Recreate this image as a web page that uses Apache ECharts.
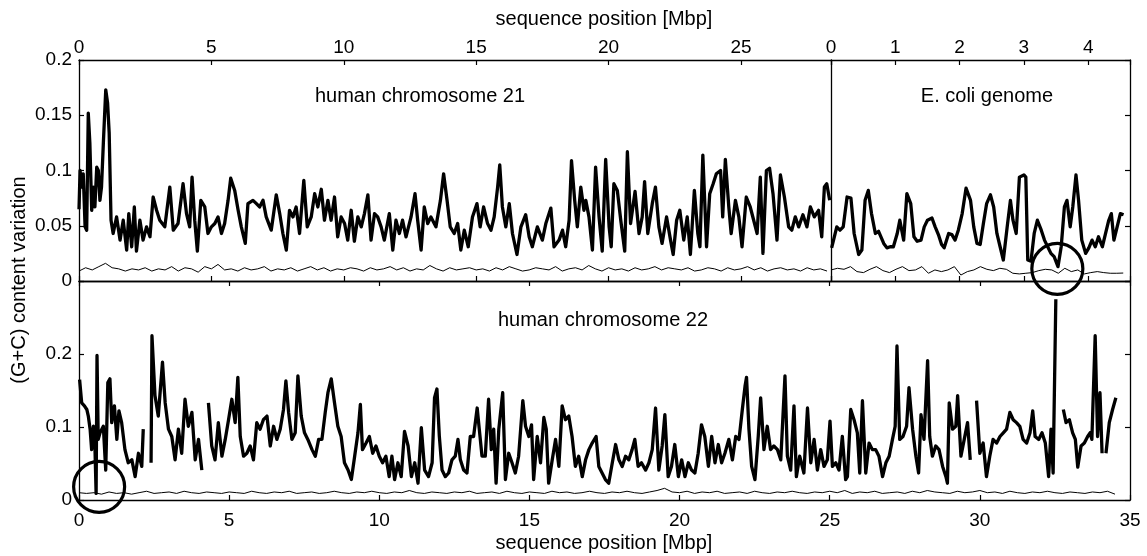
<!DOCTYPE html>
<html><head><meta charset="utf-8">
<script src="https://cdn.jsdelivr.net/npm/echarts@6/dist/echarts.min.js"></script>
<style>html,body{margin:0;padding:0;background:#fff}#c{width:1147px;height:556px}</style>
</head><body><div id="c"></div>
<script>
// ---- data (Mbp, (G+C) content variation) ----
const chr21Ticks = [0, 5, 10, 15, 20, 25];
const ecoliTicks = [0, 1, 2, 3, 4];
const chr22Ticks = [0, 5, 10, 15, 20, 25, 30, 35];

const chr21Thick = [[0,0.065],[0.04,0.100],[0.10,0.085],[0.16,0.097],[0.23,0.049],[0.29,0.046],[0.35,0.152],[0.41,0.125],[0.48,0.064],[0.54,0.085],[0.60,0.067],[0.67,0.103],[0.73,0.100],[0.79,0.073],[0.85,0.085],[0.92,0.125],[1.01,0.173],[1.08,0.161],[1.14,0.134],[1.21,0.055],[1.29,0.043],[1.42,0.058],[1.55,0.037],[1.67,0.055],[1.80,0.028],[1.88,0.061],[1.99,0.031],[2.09,0.067],[2.17,0.027],[2.30,0.055],[2.42,0.037],[2.55,0.049],[2.68,0.040],[2.80,0.076],[2.93,0.064],[3.05,0.055],[3.24,0.049],[3.43,0.085],[3.56,0.046],[3.74,0.052],[3.93,0.088],[4.06,0.061],[4.18,0.049],[4.27,0.094],[4.37,0.055],[4.47,0.027],[4.60,0.073],[4.75,0.067],[4.87,0.043],[5.00,0.049],[5.13,0.052],[5.25,0.058],[5.38,0.043],[5.50,0.052],[5.63,0.073],[5.73,0.093],[5.88,0.082],[6.01,0.064],[6.13,0.049],[6.28,0.034],[6.38,0.070],[6.57,0.073],[6.70,0.070],[6.82,0.067],[6.95,0.073],[7.07,0.058],[7.26,0.046],[7.45,0.078],[7.58,0.061],[7.70,0.043],[7.83,0.028],[7.95,0.064],[8.08,0.058],[8.20,0.067],[8.33,0.043],[8.49,0.091],[8.62,0.049],[8.77,0.058],[8.90,0.079],[9.02,0.067],[9.15,0.083],[9.27,0.055],[9.40,0.073],[9.52,0.055],[9.65,0.076],
[9.77,0.040],[9.90,0.058],[10.03,0.052],[10.15,0.037],[10.28,0.064],[10.40,0.036],[10.53,0.058],[10.66,0.049],[10.78,0.061],[10.91,0.078],[11.03,0.037],[11.16,0.061],[11.28,0.058],[11.41,0.049],[11.53,0.037],[11.72,0.061],[11.85,0.028],[11.97,0.055],[12.10,0.043],[12.22,0.055],[12.35,0.040],[12.54,0.058],[12.69,0.079],[12.79,0.055],[12.92,0.028],[13.04,0.067],[13.17,0.052],[13.29,0.058],[13.48,0.049],[13.65,0.073],[13.77,0.097],[13.90,0.073],[14.02,0.049],[14.17,0.043],[14.30,0.052],[14.42,0.028],[14.55,0.046],[14.70,0.031],[14.86,0.058],[15.03,0.070],[15.15,0.049],[15.28,0.067],[15.43,0.052],[15.56,0.046],[15.68,0.058],[15.81,0.085],[15.89,0.105],[15.99,0.067],[16.12,0.049],[16.25,0.070],[16.37,0.043],[16.54,0.024],[16.69,0.049],[16.87,0.060],[17.00,0.040],[17.12,0.031],[17.31,0.049],[17.50,0.037],[17.63,0.052],[17.82,0.066],[17.94,0.031],[18.13,0.037],[18.26,0.046],[18.38,0.031],[18.51,0.055],[18.60,0.109],[18.72,0.073],[18.82,0.049],[18.95,0.085],[19.07,0.064],
[19.14,0.073],[19.26,0.058],[19.39,0.028],[19.51,0.103],[19.64,0.058],[19.76,0.027],[19.89,0.110],[20.02,0.049],[20.10,0.031],[20.20,0.088],[20.33,0.082],[20.46,0.055],[20.61,0.027],[20.71,0.117],[20.83,0.052],[21.00,0.081],[21.15,0.043],[21.27,0.058],[21.36,0.090],[21.48,0.043],[21.65,0.070],[21.77,0.085],[21.90,0.049],[22.02,0.034],[22.19,0.058],[22.34,0.037],[22.44,0.024],[22.57,0.055],[22.69,0.064],[22.84,0.037],[22.97,0.058],[23.09,0.024],[23.24,0.082],[23.37,0.043],[23.45,0.031],[23.56,0.114],[23.70,0.031],[23.82,0.079],[23.95,0.088],[24.07,0.097],[24.23,0.100],[24.31,0.058],[24.41,0.110],[24.54,0.067],[24.63,0.043],[24.79,0.073],[24.92,0.058],[25.04,0.031],[25.20,0.076],[25.35,0.067],[25.48,0.055],[25.61,0.043],[25.73,0.094],[25.83,0.025],[25.96,0.100],[26.08,0.102],[26.21,0.079],[26.36,0.037],[26.49,0.096],[26.64,0.076],[26.80,0.049],[26.92,0.046],[27.05,0.058],[27.18,0.049],[27.34,0.060],[27.49,0.049],[27.62,0.067],[27.77,0.058],[27.93,0.064],[28.05,0.040],[28.15,0.085],[28.24,0.088],[28.35,0.073]];

const chr21ThinStep = 0.25;
const chr21Thin = [0.009,0.012,0.010,0.013,0.016,0.012,0.011,0.009,0.011,0.010,
0.012,0.009,0.011,0.010,0.013,0.009,0.012,0.011,0.008,0.013,
0.011,0.015,0.010,0.011,0.009,0.012,0.010,0.011,0.013,0.009,
0.011,0.010,0.012,0.009,0.011,0.013,0.010,0.012,0.009,0.011,
0.010,0.012,0.011,0.009,0.012,0.010,0.011,0.013,0.010,0.012,
0.009,0.011,0.010,0.014,0.011,0.009,0.012,0.010,0.011,0.012,
0.010,0.011,0.009,0.012,0.010,0.013,0.011,0.009,0.010,0.012,
0.011,0.010,0.013,0.009,0.011,0.012,0.010,0.014,0.011,0.009,
0.012,0.010,0.011,0.009,0.012,0.010,0.011,0.013,0.010,0.012,
0.011,0.010,0.012,0.009,0.010,0.012,0.011,0.009,0.012,0.010,
0.011,0.013,0.010,0.012,0.009,0.011,0.012,0.010,0.011,0.009,
0.012,0.010,0.011,0.009];

const ecoliThick = [[0.01,0.030],[0.09,0.049],[0.14,0.046],[0.19,0.049],[0.25,0.076],[0.31,0.075],[0.36,0.043],[0.43,0.024],[0.48,0.028],[0.53,0.073],[0.58,0.082],[0.63,0.061],[0.69,0.043],[0.74,0.045],[0.82,0.034],[0.87,0.030],[0.92,0.031],[0.97,0.031],[1.03,0.043],[1.07,0.055],[1.13,0.037],[1.18,0.079],[1.24,0.070],[1.29,0.040],[1.34,0.036],[1.40,0.037],[1.45,0.049],[1.50,0.055],[1.57,0.057],[1.62,0.049],[1.67,0.042],[1.72,0.033],[1.76,0.030],[1.83,0.043],[1.88,0.042],[1.93,0.037],[1.98,0.046],[2.04,0.061],[2.10,0.084],[2.17,0.073],[2.22,0.049],[2.27,0.034],[2.32,0.033],[2.37,0.052],[2.42,0.070],[2.48,0.078],[2.53,0.067],[2.58,0.043],[2.63,0.031],[2.68,0.019],[2.74,0.049],[2.79,0.073],[2.83,0.055],[2.88,0.043],[2.93,0.094],[3.00,0.096],[3.03,0.094],[3.06,0.019],[3.11,0.018],[3.16,0.043],[3.21,0.055],[3.27,0.046],[3.32,0.037],[3.37,0.031],[3.42,0.025],[3.47,0.022],[3.53,0.013],[3.58,0.031],[3.63,0.067],[3.67,0.073],[3.72,0.049],[3.76,0.067],[3.81,0.096],[3.85,0.073],[3.90,0.037],[3.96,0.025],[4.01,0.030],[4.06,0.037],[4.11,0.031],[4.16,0.040],[4.22,0.031],[4.27,0.043],[4.32,0.055],[4.36,0.061],[4.40,0.037],[4.45,0.049],[4.50,0.061],[4.55,0.060]];

const ecoliThinStep = 0.101;
const ecoliThin = [0.0100,0.0115,0.0106,0.0130,0.0085,0.0076,0.0106,0.0130,0.0094,0.0076,
0.0106,0.0130,0.0094,0.0100,0.0130,0.0070,0.0100,0.0085,0.0100,0.0130,
0.0054,0.0085,0.0100,0.0130,0.0106,0.0094,0.0115,0.0106,0.0070,0.0064,
0.0070,0.0076,0.0094,0.0106,0.0100,0.0070,0.0115,0.0085,0.0100,0.0064,
0.0076,0.0085,0.0076,0.0070,0.0070,0.0072];

const chr22Thick = [[0.02,0.165],[0.09,0.133],[0.18,0.129],[0.26,0.124],[0.31,0.115],[0.37,0.097],[0.42,0.069],[0.48,0.101],[0.53,0.074],[0.57,0.009],[0.60,0.198],[0.64,0.083],[0.70,0.092],[0.81,0.101],[0.89,0.041],[0.96,0.161],[1.03,0.166],[1.09,0.106],[1.18,0.129],[1.26,0.083],[1.33,0.122],[1.42,0.106],[1.53,0.069],[1.64,0.051],[1.76,0.055],[1.87,0.032],[1.98,0.064],[2.09,0.046],[2.14,0.097],[2.25,null],
[2.40,0.051],[2.43,0.225],[2.53,0.143],[2.64,0.115],[2.78,0.189],[2.87,0.133],[2.98,0.097],[3.09,0.087],[3.20,0.055],[3.31,0.097],[3.42,0.064],[3.53,0.138],[3.64,0.101],[3.76,0.120],[3.87,0.055],[3.98,0.083],[4.09,0.041],[4.20,null],
[4.31,0.133],[4.42,0.074],[4.53,0.055],[4.64,0.106],[4.76,0.060],[4.87,0.083],[4.98,0.110],[5.09,0.138],[5.20,0.106],[5.29,0.168],[5.37,0.087],[5.48,0.060],[5.59,0.064],[5.70,0.074],[5.81,0.055],[5.92,0.106],[6.03,0.097],[6.14,0.110],[6.26,0.115],[6.37,0.074],[6.48,0.101],[6.59,0.083],[6.70,0.097],[6.81,0.124],[6.89,0.163],[6.98,0.120],[7.09,0.083],[7.20,0.092],[7.29,0.170],[7.40,0.115],[7.51,0.092],[7.62,0.083],[7.76,0.069],[7.87,0.060],[7.98,0.083],[8.09,0.083],[8.20,0.120],[8.29,0.147],[8.40,0.166],[8.51,0.133],[8.62,0.101],[8.73,0.087],[8.84,0.051],[8.96,0.041],[9.07,0.028],[9.18,0.060],[9.29,0.092],[9.37,0.131],[9.44,0.069],[9.56,0.078],[9.67,0.087],[9.78,0.064],[9.89,0.074],[10.00,0.060],[10.11,0.051],[10.22,0.060],[10.33,0.032],[10.42,0.060],[10.51,0.028],[10.62,0.051],[10.73,0.032],[10.84,0.094],[10.96,0.074],[11.07,0.032],[11.18,0.051],[11.29,0.023],[11.40,0.099],[11.51,0.041],[11.64,0.032],[11.76,0.051],[11.84,0.140],
[11.92,0.152],[12.00,0.087],[12.09,0.041],[12.20,0.032],[12.31,0.037],[12.42,0.055],[12.53,0.060],[12.62,0.083],[12.70,0.055],[12.81,0.041],[12.92,0.037],[13.03,0.087],[13.14,0.087],[13.26,0.126],[13.33,0.097],[13.42,0.060],[13.53,0.060],[13.64,0.138],[13.73,0.069],[13.81,0.097],[13.89,0.023],[13.98,0.097],[14.11,0.147],[14.20,0.028],[14.31,0.064],[14.42,0.051],[14.53,0.037],[14.64,0.060],[14.78,0.136],[14.87,0.101],[14.98,0.087],[15.07,0.103],[15.14,0.028],[15.26,0.087],[15.37,0.051],[15.48,0.113],[15.56,0.097],[15.64,0.023],[15.76,0.055],[15.87,0.083],[15.98,0.046],[16.09,0.129],[16.20,0.110],[16.31,0.115],[16.42,0.087],[16.53,0.046],[16.64,0.060],[16.76,0.032],[16.87,0.055],[16.98,0.069],[17.09,0.078],[17.22,0.087],[17.31,0.046],[17.42,0.037],[17.53,0.028],[17.64,0.023],[17.76,0.051],[17.87,0.076],[17.98,0.055],[18.09,0.046],[18.20,0.060],[18.31,0.055],[18.42,0.069],[18.51,0.083],[18.62,0.046],[18.73,0.051],[18.87,0.041],[18.98,0.051],[19.09,0.069],[19.20,0.126],[19.31,0.041],[19.42,0.074],[19.51,0.117],[19.62,0.032],[19.73,0.046],[19.84,0.076],[19.96,0.032],[20.07,0.055],[20.18,0.032],[20.29,0.051],[20.40,0.041],[20.51,0.037],[20.62,0.064],[20.73,0.103],[20.84,0.087],[20.96,0.046],[21.07,0.087],[21.18,0.051],[21.29,0.076],[21.40,0.051],[21.51,0.064],[21.64,0.083],[21.76,0.055],[21.87,0.087],[21.98,0.083],[22.09,0.124],[22.18,0.156],[22.23,0.168],[22.31,0.097],[22.40,0.046],[22.51,0.028],[22.62,0.087],[22.70,0.140],[22.81,0.069],[22.92,0.101],[23.03,0.069],[23.14,0.074],[23.26,0.069],[23.37,0.055],[23.51,0.170],
[23.59,0.060],[23.70,0.041],[23.81,0.129],[23.89,0.032],[24.00,0.060],[24.14,0.037],[24.26,0.126],[24.37,0.051],[24.48,0.083],[24.59,0.041],[24.70,0.069],[24.81,0.046],[24.92,0.055],[25.01,0.108],[25.09,0.046],[25.20,0.051],[25.31,0.041],[25.42,0.087],[25.53,0.028],[25.59,0.032],[25.70,0.124],[25.81,0.110],[25.92,0.092],[26.00,0.037],[26.09,0.136],[26.20,0.037],[26.31,0.078],[26.42,0.069],[26.53,0.069],[26.64,0.060],[26.76,0.032],[26.87,0.051],[26.98,0.060],[27.09,0.083],[27.18,0.101],[27.24,0.211],[27.33,0.083],[27.44,0.087],[27.56,0.101],[27.64,0.154],[27.76,0.097],[27.87,0.060],[27.96,0.037],[28.04,0.117],[28.14,0.083],[28.26,0.191],[28.33,0.087],[28.42,0.060],[28.53,0.074],[28.64,0.069],[28.76,0.046],[28.87,0.032],[28.92,0.023],[28.98,0.133],[29.09,0.097],[29.20,0.101],[29.26,0.143],[29.37,0.060],[29.48,0.083],[29.59,0.106],[29.68,0.055],[29.78,null],
[29.89,0.136],[30.00,0.064],[30.11,0.078],[30.22,0.032],[30.33,0.060],[30.44,0.083],[30.56,0.078],[30.67,0.087],[30.78,0.092],[30.89,0.097],[31.00,0.120],[31.11,0.110],[31.22,0.106],[31.33,0.101],[31.44,0.083],[31.56,0.078],[31.67,0.092],[31.76,0.122],[31.84,0.087],[31.96,0.083],[32.07,0.092],[32.18,0.078],[32.29,0.032],[32.37,0.097],[32.44,0.037],[32.53,0.275],[32.65,null],
[32.78,0.124],[32.87,0.106],[32.98,0.110],[33.09,0.092],[33.18,0.083],[33.26,0.045],[33.37,0.074],[33.48,0.078],[33.59,0.087],[33.67,0.092],[33.73,0.083],[33.84,0.225],[33.92,0.087],[34.00,0.147],[34.07,0.064],[34.13,null],
[34.20,0.064],[34.31,0.106],[34.42,0.124],[34.53,0.140]];

const chr22ThinStep = 0.25;
const chr22Thin = [0.010,0.009,0.010,0.008,0.011,0.009,0.010,0.008,0.010,0.012,
0.009,0.010,0.011,0.009,0.012,0.010,0.009,0.011,0.010,0.009,
0.011,0.010,0.009,0.012,0.010,0.009,0.011,0.010,0.012,0.009,
0.010,0.011,0.009,0.010,0.012,0.010,0.009,0.011,0.010,0.012,
0.010,0.009,0.011,0.010,0.013,0.010,0.009,0.011,0.010,0.009,
0.011,0.010,0.012,0.009,0.010,0.011,0.009,0.012,0.010,0.009,
0.011,0.010,0.009,0.012,0.010,0.011,0.009,0.010,0.012,0.010,
0.009,0.011,0.010,0.012,0.010,0.009,0.011,0.013,0.016,0.011,
0.010,0.012,0.009,0.011,0.010,0.012,0.009,0.010,0.011,0.009,
0.012,0.010,0.009,0.011,0.010,0.012,0.010,0.009,0.011,0.010,
0.012,0.010,0.013,0.009,0.011,0.010,0.012,0.009,0.010,0.011,
0.009,0.012,0.010,0.013,0.011,0.010,0.009,0.012,0.010,0.011,
0.013,0.010,0.011,0.009,0.012,0.010,0.009,0.011,0.010,0.012,
0.010,0.009,0.011,0.010,0.009,0.011,0.010,0.012,0.008];

// annotation circles (data coordinates)
const ecoliCircle = [3.52, 0.011];
const chr22Circle = [0.67, 0.018];

// ---- helpers ----
const FONT = 'Liberation Sans';
const BLACK = '#000';
const withGaps = arr => arr.map(p => [p[0], p[1] === null ? '-' : p[1]]);
const stepped = (vals, step) => vals.map((v, i) => [+(i * step).toFixed(3), v]);
const lineCol = { color: BLACK, width: 1.3 };
const tickOn = { show: true, inside: true, length: 5, lineStyle: { color: BLACK, width: 1.2 } };
const lbl = (extra) => Object.assign({ color: BLACK, fontSize: 19, fontFamily: FONT }, extra);
const onTicks = ticks => v => (ticks.some(t => Math.abs(t - v) < 1e-6) ? String(v) : '');

function xAx(grid, pos, min, max, interval, showLabel, ticks, margin) {
  return {
    type: 'value', gridIndex: grid, position: pos, min, max, interval,
    axisLine: { show: true, onZero: false, lineStyle: lineCol },
    axisTick: tickOn,
    axisLabel: showLabel ? lbl({ margin, formatter: onTicks(ticks) }) : { show: false },
    splitLine: { show: false }
  };
}
function yAx(grid, pos, min, max, interval, showLabel, showTicks, fmt) {
  return {
    type: 'value', gridIndex: grid, position: pos, min, max, interval,
    axisLine: { show: true, onZero: false, lineStyle: lineCol },
    axisTick: showTicks ? tickOn : { show: false },
    axisLabel: showLabel ? lbl({ margin: 7, formatter: fmt }) : { show: false },
    splitLine: { show: false }
  };
}
const circleMark = (c) => ({
  symbol: 'circle', symbolSize: 51, silent: true, animation: false,
  itemStyle: { color: 'rgba(0,0,0,0)', borderColor: BLACK, borderWidth: 3.2 },
  label: { show: false },
  data: [{ coord: c }]
});
const thick = { color: BLACK, width: 3.3, join: 'round' };
const thin = { color: BLACK, width: 1 };

const chart = echarts.init(document.getElementById('c'), null, { renderer: 'canvas' });
chart.setOption({
  animation: false,
  backgroundColor: '#fff',
  grid: [
    { left: 79, top: 60, width: 752, height: 221 },
    { left: 831, top: 60, width: 299, height: 221 },
    { left: 79, top: 281, width: 1051, height: 219 }
  ],
  xAxis: [
    xAx(0, 'top', 0, 28.4, 5, true, chr21Ticks, 3),
    xAx(0, 'bottom', 0, 28.4, 5, false),
    xAx(1, 'top', 0, 4.65, 1, true, ecoliTicks, 3),
    xAx(1, 'bottom', 0, 4.65, 1, false),
    xAx(2, 'bottom', 0, 35, 5, true, chr22Ticks, 11),
    xAx(2, 'top', 0, 35, 5, false)
  ],
  yAxis: [
    yAx(0, 'left', 0, 0.2, 0.05, true, true, v => String(+v.toFixed(2))),
    yAx(1, 'left', 0, 0.2, 0.05, false, false),
    yAx(1, 'right', 0, 0.2, 0.05, false, true),
    yAx(2, 'left', 0, 0.3, 0.1, true, true, v => (v > 0.25 ? '' : String(+v.toFixed(1)))),
    yAx(2, 'right', 0, 0.3, 0.1, false, true)
  ],
  series: [
    { type: 'line', xAxisIndex: 0, yAxisIndex: 0, data: withGaps(chr21Thick), showSymbol: false, symbol: 'none', lineStyle: thick, connectNulls: false, z: 3 },
    { type: 'line', xAxisIndex: 0, yAxisIndex: 0, data: stepped(chr21Thin, chr21ThinStep), showSymbol: false, symbol: 'none', lineStyle: thin, z: 2 },
    { type: 'line', xAxisIndex: 2, yAxisIndex: 1, data: withGaps(ecoliThick), showSymbol: false, symbol: 'none', lineStyle: thick, z: 3, markPoint: circleMark(ecoliCircle) },
    { type: 'line', xAxisIndex: 2, yAxisIndex: 1, data: stepped(ecoliThin, ecoliThinStep), showSymbol: false, symbol: 'none', lineStyle: thin, z: 2 },
    { type: 'line', xAxisIndex: 4, yAxisIndex: 3, data: withGaps(chr22Thick), showSymbol: false, symbol: 'none', lineStyle: thick, connectNulls: false, z: 3, markPoint: circleMark(chr22Circle) },
    { type: 'line', xAxisIndex: 4, yAxisIndex: 3, data: stepped(chr22Thin, chr22ThinStep), showSymbol: false, symbol: 'none', lineStyle: thin, z: 2 }
  ],
  graphic: [
    { type: 'text', x: 604, y: 19, style: { text: 'sequence position [Mbp]', fill: BLACK, fontSize: 20, fontFamily: FONT, align: 'center', verticalAlign: 'middle' } },
    { type: 'text', x: 604, y: 543, style: { text: 'sequence position [Mbp]', fill: BLACK, fontSize: 20, fontFamily: FONT, align: 'center', verticalAlign: 'middle' } },
    { type: 'text', x: 19, y: 280, rotation: Math.PI / 2, style: { text: '(G+C) content variation', fill: BLACK, fontSize: 20, fontFamily: FONT, align: 'center', verticalAlign: 'middle' } },
    { type: 'text', x: 420, y: 96, style: { text: 'human chromosome 21', fill: BLACK, fontSize: 20, fontFamily: FONT, align: 'center', verticalAlign: 'middle' } },
    { type: 'text', x: 987, y: 96, style: { text: 'E. coli genome', fill: BLACK, fontSize: 20, fontFamily: FONT, align: 'center', verticalAlign: 'middle' } },
    { type: 'text', x: 603, y: 320, style: { text: 'human chromosome 22', fill: BLACK, fontSize: 20, fontFamily: FONT, align: 'center', verticalAlign: 'middle' } }
  ]
});
</script>
</body></html>
